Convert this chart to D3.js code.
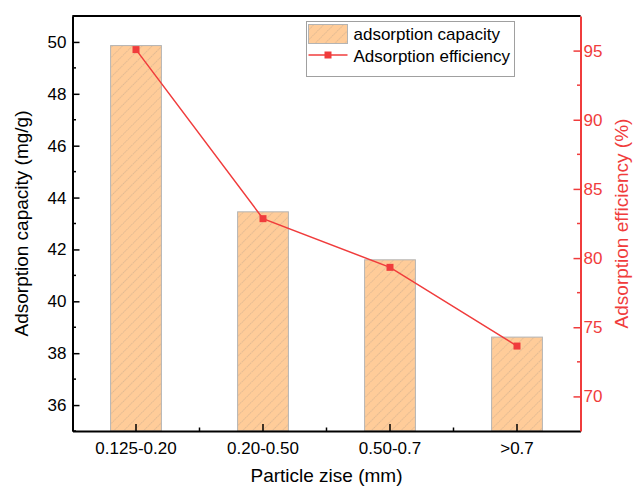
<!DOCTYPE html>
<html>
<head>
<meta charset="utf-8">
<script src="https://cdn.jsdelivr.net/npm/d3@7"></script>
<style>
  body { margin: 0; background: #fff; }
  svg { font-family: "Liberation Sans", Arial, sans-serif; }
</style>
</head>
<body>
<svg id="chart"></svg>
<script>
const categories = ['0.125-0.20', '0.20-0.50', '0.50-0.7', '>0.7']
const capacity = [49.86, 43.45, 41.6, 38.62]
const efficiency = [95.07, 82.85, 79.33, 73.64]
const leftTicks = [36, 38, 40, 42, 44, 46, 48, 50]
const rightTicks = [70, 75, 80, 85, 90, 95]

const red = '#f03c3c'
const svgWidth = 635
const svgHeight = 486
const margin = { top: 16, right: 54.5, bottom: 55, left: 72.5 }
const width = svgWidth - margin.left - margin.right
const height = svgHeight - margin.top - margin.bottom

const svg = d3.select('#chart')
  .attr('width', svgWidth)
  .attr('height', svgHeight)

// hatch pattern for the bars
const defs = svg.append('defs')
defs.append('pattern')
  .attr('id', 'hatch')
  .attr('patternUnits', 'userSpaceOnUse')
  .attr('width', 7)
  .attr('height', 7)
  .attr('patternTransform', 'rotate(45)')
  .call(p => {
    p.append('rect').attr('width', 7).attr('height', 7).attr('fill', '#ffcc99')
    p.append('line')
      .attr('x1', 0).attr('y1', 0).attr('x2', 0).attr('y2', 7)
      .attr('stroke', '#b9a18a')
      .attr('stroke-width', 0.9)
      .attr('stroke-dasharray', '1.5,0.8')
  })

const g = svg.append('g')
  .attr('transform', `translate(${margin.left}, ${margin.top})`)

const x = d3.scaleBand().domain(categories).range([0, width])
const y = d3.scaleLinear().domain([35, 51]).range([height, 0])
const y2 = d3.scaleLinear().domain([67.5, 97.5]).range([height, 0])

const barW = x.bandwidth() * 0.4

// Bars
g.selectAll('rect.bar')
  .data(capacity)
  .enter().append('rect')
  .attr('class', 'bar')
  .attr('x', (d, i) => x(categories[i]) + x.bandwidth() / 2 - barW / 2)
  .attr('y', d => y(d))
  .attr('width', barW)
  .attr('height', d => height - y(d))
  .attr('fill', 'url(#hatch)')
  .attr('stroke', '#b4b4b4')
  .attr('stroke-width', 1)

// minor ticks
const minorLen = 3.5
g.append('g')
  .selectAll('line')
  .data(d3.range(35, 52, 2))
  .enter().append('line')
  .attr('x1', 0).attr('x2', minorLen)
  .attr('y1', d => y(d)).attr('y2', d => y(d))
  .attr('stroke', '#000').attr('stroke-width', 1.5)

g.append('g')
  .selectAll('line')
  .data(d3.range(72.5, 97.6, 5))
  .enter().append('line')
  .attr('x1', width).attr('x2', width - minorLen)
  .attr('y1', d => y2(d)).attr('y2', d => y2(d))
  .attr('stroke', red).attr('stroke-width', 1.5)

g.append('g')
  .selectAll('line')
  .data(categories.slice(1))
  .enter().append('line')
  .attr('x1', d => x(d)).attr('x2', d => x(d))
  .attr('y1', height).attr('y2', height - minorLen)
  .attr('stroke', '#000').attr('stroke-width', 1.5)

// top frame line
g.append('line')
  .attr('x1', 0).attr('x2', width)
  .attr('y1', 0).attr('y2', 0)
  .attr('stroke', '#000').attr('stroke-width', 2)

// Axes
const xAxis = d3.axisBottom(x).tickSizeInner(-7).tickSizeOuter(0).tickPadding(11)
const yAxis = d3.axisLeft(y).tickValues(leftTicks).tickSizeInner(-7).tickSizeOuter(0).tickPadding(6)
const yAxis2 = d3.axisRight(y2).tickValues(rightTicks).tickSizeInner(-7).tickSizeOuter(0).tickPadding(3)

const gx = g.append('g')
  .attr('transform', `translate(0, ${height})`)
  .call(xAxis)

const gy = g.append('g').call(yAxis)

const gy2 = g.append('g')
  .attr('transform', `translate(${width}, 0)`)
  .call(yAxis2)

for (const ax of [gx, gy, gy2]) {
  ax.select('.domain').attr('stroke-width', 2)
  ax.selectAll('.tick line').attr('stroke-width', 1.5)
  ax.selectAll('.tick text').attr('font-size', 17).attr('font-family', '"Liberation Sans", Arial, sans-serif')
}
gy2.select('.domain').attr('stroke', red)
gy2.selectAll('.tick line').attr('stroke', red)
gy2.selectAll('.tick text').attr('fill', red)

// Efficiency line
const line = d3.line()
  .x((d, i) => x(categories[i]) + x.bandwidth() / 2)
  .y(d => y2(d))

g.append('path')
  .datum(efficiency)
  .attr('fill', 'none')
  .attr('stroke', red)
  .attr('stroke-width', 1.5)
  .attr('d', line)

g.selectAll('rect.pt')
  .data(efficiency)
  .enter().append('rect')
  .attr('class', 'pt')
  .attr('x', (d, i) => x(categories[i]) + x.bandwidth() / 2 - 3.5)
  .attr('y', d => y2(d) - 3.5)
  .attr('width', 7)
  .attr('height', 7)
  .attr('fill', red)

// Axis titles
svg.append('text')
  .attr('x', margin.left + width / 2)
  .attr('y', 482)
  .attr('text-anchor', 'middle')
  .attr('font-size', 19)
  .text('Particle zise (mm)')

svg.append('text')
  .attr('transform', `translate(28, ${margin.top + height / 2}) rotate(-90)`)
  .attr('text-anchor', 'middle')
  .attr('font-size', 19)
  .text('Adsorption capacity (mg/g)')

svg.append('text')
  .attr('transform', `translate(628, ${margin.top + height / 2}) rotate(-90)`)
  .attr('text-anchor', 'middle')
  .attr('font-size', 19)
  .attr('fill', red)
  .text('Adsorption efficiency (%)')

// Legend
const legend = svg.append('g').attr('transform', 'translate(306.5, 21.5)')
legend.append('rect')
  .attr('width', 208).attr('height', 55)
  .attr('fill', '#fff').attr('stroke', '#a0a0a0').attr('stroke-width', 1)
legend.append('rect')
  .attr('x', 2).attr('y', 3).attr('width', 39).attr('height', 19)
  .attr('fill', 'url(#hatch)').attr('stroke', '#b4b4b4')
legend.append('text')
  .attr('x', 47).attr('y', 18.5)
  .attr('font-size', 17)
  .text('adsorption capacity')
legend.append('line')
  .attr('x1', 2).attr('x2', 41).attr('y1', 33.5).attr('y2', 33.5)
  .attr('stroke', red).attr('stroke-width', 1.5)
legend.append('rect')
  .attr('x', 18).attr('y', 30).attr('width', 7).attr('height', 7)
  .attr('fill', red)
legend.append('text')
  .attr('x', 47).attr('y', 40)
  .attr('font-size', 17)
  .text('Adsorption efficiency')
</script>
</body>
</html>
